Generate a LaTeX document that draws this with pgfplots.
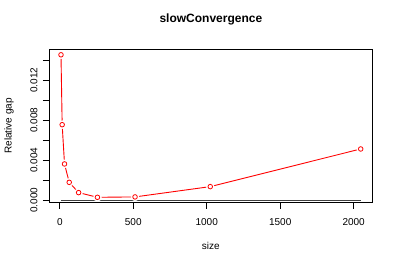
\documentclass[border=0pt]{standalone}
\usepackage{pgfplots}
\pgfplotsset{compat=1.18}
\usepackage{fontspec}
\setmainfont{Liberation Sans}
\usetikzlibrary{calc}
\begin{document}
\begin{tikzpicture}[x=1bp,y=1bp]
\useasboundingbox (0,0) rectangle (399,266);
\begin{axis}[
  at={(49bp,63.2bp)}, anchor=south west,
  scale only axis, width=323.7bp, height=153.8bp,
  xmin=-73.6, xmax=2129.6, ymin=-0.00027, ymax=0.01513,
  axis line style={black, line width=0.75bp},
  tick style={black, line width=0.75bp},
  tick align=outside, tick pos=left, major tick length=6bp,
  xtick={0,500,1000,1500,2000},
  xticklabels={0,500,1000,1500,2000},
  ytick={0,0.002,0.004,0.006,0.008,0.010,0.012,0.014},
  yticklabels={0.000,,0.004,,0.008,,0.012,},
  scaled y ticks=false, scaled x ticks=false,
  font=\fontsize{10bp}{12bp}\selectfont,
  xticklabel style={anchor=base, font=\fontsize{10bp}{12bp}\selectfont},
  xticklabel shift=17bp,
  yticklabel style={rotate=90, anchor=base, font=\fontsize{10bp}{12bp}\selectfont},
  yticklabel shift=5.7bp,
  title={slowConvergence},
  title style={at={(axis description cs:0.5,1)}, anchor=base, yshift=20.7bp,
    font=\fontsize{12bp}{14bp}\bfseries},
  xlabel={size},
  xlabel style={at={($(axis description cs:0.5,0)+(0,-47bp)$)}, anchor=base,
    font=\fontsize{10bp}{12bp}\selectfont},
  ylabel={Relative gap},
  ylabel style={at={($(axis description cs:0,0.5)+(-37.3bp,0)$)}, anchor=base, rotate=0,
    font=\fontsize{10bp}{12bp}\selectfont},
]
\addplot[red, line width=0.9bp] coordinates {
  (8,0.01455) (16,0.00755) (32,0.00362) (64,0.00178) (128,0.00075)
  (256,0.00028) (512,0.00032) (1024,0.00135) (2048,0.00512)};
\addplot[only marks, mark=*, mark size=4bp, white, mark options={fill=white, draw=white}] coordinates {
  (8,0.01455) (16,0.00755) (32,0.00362) (64,0.00178) (128,0.00075)
  (256,0.00028) (512,0.00032) (1024,0.00135) (2048,0.00512)};
\addplot[black!75, line width=0.8bp] coordinates {(8,0) (2048,0)};
\addplot[only marks, mark=o, mark size=2.3bp, red, mark options={line width=0.8bp}] coordinates {
  (8,0.01455) (16,0.00755) (32,0.00362) (64,0.00178) (128,0.00075)
  (256,0.00028) (512,0.00032) (1024,0.00135) (2048,0.00512)};
\end{axis}
\end{tikzpicture}
\end{document}
